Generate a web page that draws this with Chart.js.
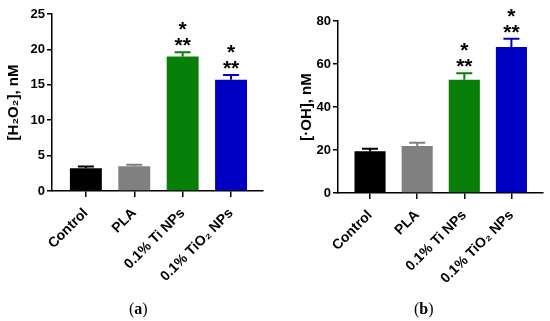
<!DOCTYPE html>
<html>
<head>
<meta charset="utf-8">
<script src="https://cdn.jsdelivr.net/npm/chart.js@4/dist/chart.umd.min.js"></script>
<style>
  body { margin: 0; background: #fff; }
  #wrap { position: relative; width: 550px; height: 321px; }
  .panel { position: absolute; top: 0; width: 275px; height: 321px; }
  .cap { position: absolute; top: 300px; font-family: "Liberation Serif", "Times New Roman", serif; font-size: 16px; color: #000; }
</style>
</head>
<body>
<div id="wrap">
  <div class="panel" style="left:0"><canvas id="chartA" width="275" height="321"></canvas></div>
  <div class="panel" style="left:275px"><canvas id="chartB" width="275" height="321"></canvas></div>
  <div class="cap" style="left:129px">(<b>a</b>)</div>
  <div class="cap" style="left:414px">(<b>b</b>)</div>
</div>
<script>
// values
const categories = ['Control', 'PLA', '0.1% Ti NPs', '0.1% TiO\u2082 NPs'];
const barColors = ['#000000', '#808080', '#087f08', '#0000c4'];

const h2o2Mean = [3.2, 3.5, 19.0, 15.7];
const h2o2Err = [0.25, 0.2, 0.6, 0.7];

const ohMean = [19.4, 21.9, 52.7, 67.9];
const ohErr = [1.2, 1.5, 3.0, 3.9];

const sigTop = ['', '', '*', '*'];
const sigBottom = ['', '', '**', '**'];

const FONT = '"Liberation Sans", Arial, sans-serif';

// one-sided error bars + significance stars
const errorBarPlugin = {
    id: 'errorBars',
    afterDatasetsDraw(chart, args, opts) {
        const ctx = chart.ctx;
        const yScale = chart.scales.y;
        const meta = chart.getDatasetMeta(0);
        const means = chart.data.datasets[0].data;
        ctx.save();
        meta.data.forEach((bar, i) => {
            const yTop = yScale.getPixelForValue(means[i] + opts.err[i]);
            ctx.strokeStyle = barColors[i];
            ctx.lineWidth = 2;
            ctx.beginPath();
            ctx.moveTo(bar.x, bar.y);
            ctx.lineTo(bar.x, yTop);
            ctx.moveTo(bar.x - 8, yTop);
            ctx.lineTo(bar.x + 8, yTop);
            ctx.stroke();

            ctx.fillStyle = '#000';
            ctx.font = 'bold 21px ' + FONT;
            ctx.textAlign = 'center';
            ctx.textBaseline = 'alphabetic';
            ctx.fillText(sigBottom[i], bar.x, yTop);
            ctx.fillText(sigTop[i], bar.x, yTop - 16);
        });
        ctx.restore();
    }
};

function makeChart(id, means, errs, cfg) {
    const ctx = document.getElementById(id).getContext('2d');
    return new Chart(ctx, {
        type: 'bar',
        data: {
            labels: categories,
            datasets: [{
                data: means,
                backgroundColor: barColors,
                borderWidth: 0,
                barPercentage: 1,
                categoryPercentage: 0.66
            }]
        },
        options: {
            responsive: false,
            animation: false,
            layout: { padding: { top: cfg.top, right: cfg.right, left: 0, bottom: 0 } },
            plugins: {
                legend: { display: false },
                tooltip: { enabled: false },
                errorBars: { err: errs }
            },
            scales: {
                x: {
                    type: 'category',
                    offset: true,
                    afterBuildTicks: function (scale) {
                        // uneven space before the first / after the last bar
                        scale._startValue = -cfg.startGap;
                        scale._valueRange = cfg.startGap + 3 + cfg.endGap;
                    },
                    afterFit: function (scale) { scale.height = cfg.xHeight; },
                    grid: {
                        display: true, drawOnChartArea: false, drawTicks: true,
                        tickLength: 6, offset: false, color: '#000', lineWidth: 1.5
                    },
                    border: { display: true, color: '#000', width: 1.5 },
                    ticks: {
                        minRotation: 45, maxRotation: 45, padding: 8,
                        color: '#000', font: { family: FONT, size: 14, weight: 'bold' }
                    }
                },
                y: {
                    min: 0,
                    max: cfg.max,
                    afterFit: function (scale) { scale.width = cfg.yWidth; },
                    grid: {
                        display: true, drawOnChartArea: false, drawTicks: true,
                        tickLength: 5, color: '#000', lineWidth: 1.5
                    },
                    border: { display: true, color: '#000', width: 1.5 },
                    ticks: {
                        stepSize: cfg.step, padding: 2,
                        color: '#000', font: { family: FONT, size: 13, weight: 'bold' }
                    },
                    title: {
                        display: true, text: cfg.title, color: '#000',
                        padding: { top: cfg.titlePad, bottom: 0 },
                        font: { family: FONT, size: 15, weight: 'bold' }
                    }
                }
            }
        },
        plugins: [errorBarPlugin]
    });
}

makeChart('chartA', h2o2Mean, h2o2Err, {
    max: 25, step: 5, title: '[H\u2082O\u2082], nM', titlePad: 5,
    top: 14, right: 12, yWidth: 52, xHeight: 130, startGap: 0.70, endGap: 0.66
});

makeChart('chartB', ohMean, ohErr, {
    max: 80, step: 20, title: '[\u00b7OH], nM', titlePad: 23,
    top: 21, right: 7, yWidth: 63, xHeight: 128, startGap: 0.68, endGap: 0.67
});
</script>
</body>
</html>
